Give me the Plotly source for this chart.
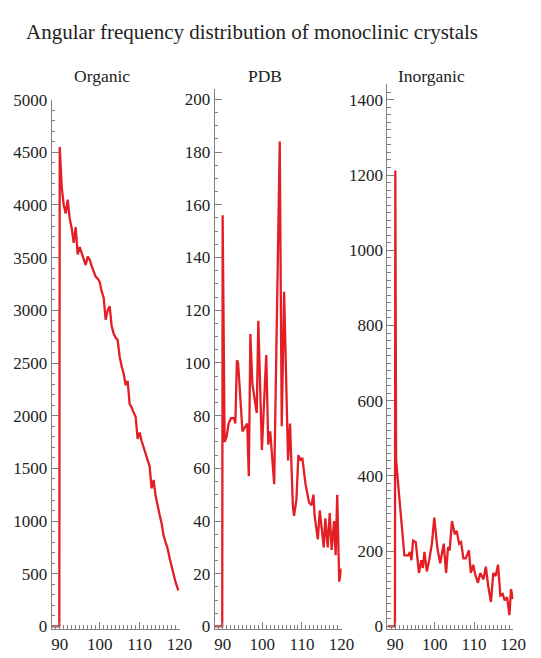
import plotly.graph_objects as go

# ---------------- data ----------------
organic_x = [88, 89.9, 90, 90.5, 91, 91.5, 92, 92.5, 93, 93.5, 94, 94.5, 95, 95.5, 96, 96.5,
             97, 97.5, 98, 98.5, 99, 99.5, 100, 100.5, 101, 101.5, 102, 102.5, 103, 103.5,
             104, 104.5, 105, 105.5, 106, 106.5, 107, 107.5, 108, 108.5, 109, 109.5, 110,
             110.5, 111, 111.5, 112, 112.5, 113, 113.5, 114, 114.5, 115, 115.5, 116, 116.5,
             117, 117.5, 118, 118.5, 119, 119.7]
organic_y = [0, 0, 4550, 4170, 4000, 3920, 4050, 3870, 3780, 3640, 3790, 3530, 3600, 3540, 3480,
             3430, 3510, 3480, 3420, 3360, 3320, 3300, 3270, 3180, 3120, 2910, 3000, 3040, 2850,
             2780, 2740, 2720, 2560, 2470, 2400, 2290, 2330, 2110, 2080, 2030, 1990, 1780, 1840,
             1760, 1700, 1630, 1560, 1520, 1310, 1390, 1240, 1140, 1060, 980, 860, 800, 740, 650,
             570, 480, 420, 340]

pdb_x = [88, 89.9, 90, 90.5, 91, 91.5, 92.1, 92.9, 93.2, 93.6, 93.9, 95, 95.8, 96.2, 96.6,
         97.0, 97.5, 98.0, 98.6, 99.0, 99.9, 101.0, 101.5, 102.0, 103.0, 104.4, 104.9, 105.5,
         106.5, 107.0, 107.7, 108.0, 108.6, 109.1, 109.7, 110.1, 110.9, 111.8, 112.4, 112.9,
         113.2, 114.0, 114.5, 115.5, 115.9, 116.5, 117.0, 117.5, 118.1, 118.5, 118.9, 119.4,
         120.0]
pdb_y = [0, 0, 156, 70, 72, 77, 79, 79, 77, 101, 100, 74, 76, 77, 57,
         111, 92, 86, 81, 116, 67, 103, 69, 74, 54, 184, 76, 127,
         63, 77, 46, 42, 48, 65, 63, 64, 54, 47, 46, 50,
         42, 33, 44, 30, 41, 30, 43, 29, 40, 27, 50, 17,
         22]

inorg_x = [88, 89.9, 90, 90.2, 90.6, 91.5, 92.3, 93.3, 93.7, 94.1, 94.5, 95.2, 96.0, 96.6, 97.0,
           97.4, 98.0, 98.6, 99.3, 99.9, 100.7, 101.4, 102.3, 102.9, 103.4, 103.8, 104.4,
           105.1, 105.6, 106.2, 106.7, 107.3, 107.9, 108.7, 109.2, 109.8, 110.3, 111.0,
           111.6, 112.4, 113.0, 113.6, 114.3, 114.9, 115.5, 116.1, 116.7, 117.3, 117.8,
           118.4, 119.0, 119.4, 119.9]
inorg_y = [0, 0, 1212, 444, 392, 290, 189, 189, 198, 176, 228, 224, 142, 176, 155,
           198, 146, 176, 220, 289, 207, 168, 220, 142, 211, 202, 280,
           245, 254, 220, 224, 181, 181, 202, 142, 164, 138, 116,
           142, 125, 159, 108, 65, 142, 134, 164, 82, 86, 69,
           78, 30, 99, 73]

panel_titles = ["Organic", "PDB", "Inorganic"]
main_title = "Angular frequency distribution of monoclinic crystals"
x_ticks = [90, 100, 110, 120]

# ---------------- layout helpers ----------------
W, H = 541, 658
SERIF = "Liberation Serif, Times New Roman, serif"
RED = "#e31e24"
AXIS = "#7f7f7f"


def px_x(p):
    return p / W


def px_y(p):
    return 1 - p / H


bottom_px = 635
panels = [
    # (x-left px, x-right px, y max, top px, major dtick, minor dtick)
    dict(x0=53, x1=184, ymax=5000, top=93, dt=500, mdt=100, title_x=105),
    dict(x0=220, x1=350, ymax=204, top=82, dt=20, mdt=5, title_x=272),
    dict(x0=397, x1=526, ymax=1442, top=77, dt=200, mdt=20, title_x=442),
]
series = [(organic_x, organic_y), (pdb_x, pdb_y), (inorg_x, inorg_y)]

fig = go.Figure()
layout = dict(
    width=W, height=H,
    margin=dict(l=0, r=0, t=0, b=0),
    paper_bgcolor="white", plot_bgcolor="white",
    showlegend=False,
    font=dict(family=SERIF, size=16, color="#222"),
)

annotations = [dict(text=main_title, x=px_x(258), y=px_y(24), xref="paper", yref="paper",
                    showarrow=False, font=dict(family=SERIF, size=21, color="#222"),
                    xanchor="center", yanchor="middle")]

for i, (p, (xs, ys)) in enumerate(zip(panels, series)):
    n = "" if i == 0 else str(i + 1)
    xa, ya = "x" + n, "y" + n
    fig.add_trace(go.Scatter(x=xs, y=ys, mode="lines", xaxis=xa, yaxis=ya,
                             line=dict(color=RED, width=2.3)))
    small = p["ymax"] * 0.004
    layout["xaxis" + n] = dict(
        domain=[px_x(p["x0"]), px_x(p["x1"])], anchor=ya, range=[88, 120],
        tickvals=x_ticks, ticktext=[str(v) for v in x_ticks],
        ticks="inside", ticklen=7, tickwidth=1, tickcolor=AXIS,
        showline=True, linecolor=AXIS, linewidth=1, showgrid=False, zeroline=False,
        tickfont=dict(family=SERIF, size=17, color="#222"),
        minor=dict(dtick=1, tick0=88, ticks="inside", ticklen=3.5, tickcolor=AXIS, tickwidth=1),
        fixedrange=True,
    )
    layout["yaxis" + n] = dict(
        domain=[px_y(bottom_px + 1), px_y(p["top"])], anchor=xa,
        range=[-small, p["ymax"]], dtick=p["dt"], tick0=0,
        ticks="inside", ticklen=7, tickwidth=1, tickcolor=AXIS,
        showline=True, linecolor=AXIS, linewidth=1, showgrid=False, zeroline=False,
        tickfont=dict(family=SERIF, size=17, color="#222"),
        minor=dict(dtick=p["mdt"], ticks="inside", ticklen=3.5, tickcolor=AXIS, tickwidth=1),
        fixedrange=True,
    )
    annotations.append(dict(text=panel_titles[i], x=px_x(p["title_x"]), y=px_y(69),
                            xref="paper", yref="paper", showarrow=False,
                            font=dict(family=SERIF, size=17.5, color="#222"),
                            xanchor="center", yanchor="middle"))

layout["annotations"] = annotations
fig.update_layout(**layout)
fig.write_html("out.html")
